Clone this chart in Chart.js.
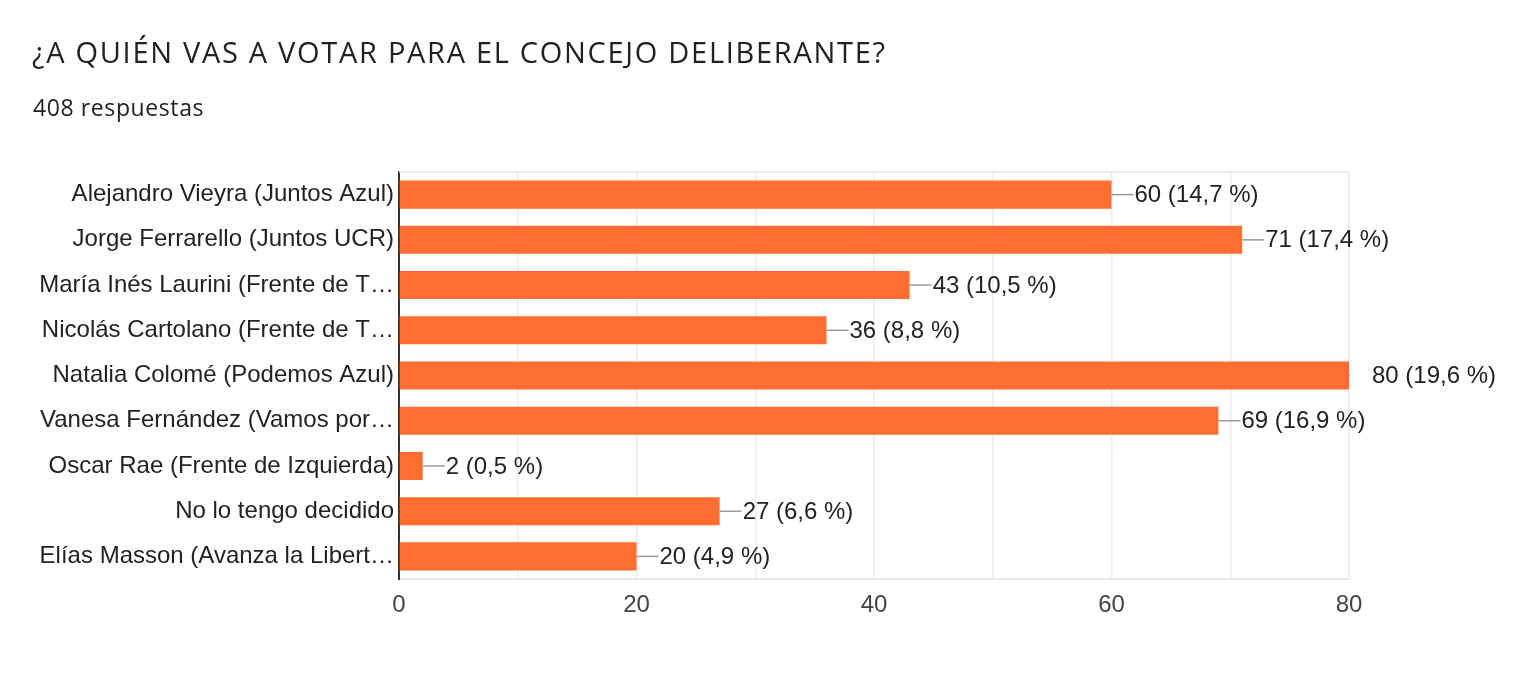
<!DOCTYPE html>
<html>
<head>
<meta charset="utf-8">
<script src="https://cdn.jsdelivr.net/npm/chart.js@4"></script>
<style>
  html, body { margin: 0; padding: 0; background: #fff; }
  #wrap { position: relative; width: 1518px; height: 688px; }
  #title { position: absolute; left: 32px; top: 37px; font: 29px/29px "Open Sans", sans-serif; letter-spacing: 1.7px; color: #202124; white-space: nowrap; }
  #sub { position: absolute; left: 33px; top: 96px; font: 23px/23px "Open Sans", sans-serif; letter-spacing: 0.6px; color: #202124; white-space: nowrap; }
  canvas { position: absolute; left: 0; top: 0; }
</style>
</head>
<body>
<div id="wrap">
  <canvas id="votoChart" width="1518" height="688"></canvas>
  <div id="title">¿A QUIÉN VAS A VOTAR PARA EL CONCEJO DELIBERANTE?</div>
  <div id="sub">408 respuestas</div>
</div>
<script>
const candidatos = [
    'Alejandro Vieyra (Juntos Azul)',
    'Jorge Ferrarello (Juntos UCR)',
    'María Inés Laurini (Frente de T…',
    'Nicolás Cartolano (Frente de T…',
    'Natalia Colomé (Podemos Azul)',
    'Vanesa Fernández (Vamos por…',
    'Oscar Rae (Frente de Izquierda)',
    'No lo tengo decidido',
    'Elías Masson (Avanza la Libert…'
];
const votos = [60, 71, 43, 36, 80, 69, 2, 27, 20];
const porcentajes = ['14,7', '17,4', '10,5', '8,8', '19,6', '16,9', '0,5', '6,6', '4,9'];
const xTicks = [0, 20, 40, 60, 80];

const fontFam = '"Liberation Sans", Arial, sans-serif';

// leader line + "n (x %)" label at the end of each bar
const barLabels = {
    id: 'barLabels',
    beforeDatasetsDraw(chart) {
        const { ctx, chartArea } = chart;
        ctx.save();
        ctx.strokeStyle = '#e6e6e6';
        ctx.lineWidth = 1.5;
        ctx.beginPath();
        ctx.moveTo(chartArea.left, chartArea.top);
        ctx.lineTo(chartArea.right, chartArea.top);
        ctx.stroke();
        ctx.restore();
    },
    afterDatasetsDraw(chart) {
        const { ctx, chartArea } = chart;
        const meta = chart.getDatasetMeta(0);
        ctx.save();
        meta.data.forEach((bar, i) => {
            ctx.save();
            ctx.beginPath();
            ctx.rect(chartArea.left, chartArea.top, chartArea.right - chartArea.left + 1, chartArea.bottom - chartArea.top);
            ctx.clip();
            ctx.strokeStyle = '#999';
            ctx.lineWidth = 1.5;
            ctx.beginPath();
            ctx.moveTo(bar.x, bar.y);
            ctx.lineTo(bar.x + 22, bar.y);
            ctx.stroke();
            ctx.restore();
        });
        ctx.font = '24px ' + fontFam;
        ctx.fillStyle = '#222';
        ctx.textBaseline = 'middle';
        meta.data.forEach((bar, i) => {
            ctx.fillText(votos[i] + ' (' + porcentajes[i] + ' %)', bar.x + 23, bar.y + 1);
        });
        ctx.restore();
    }
};

const ctx = document.getElementById('votoChart').getContext('2d');
new Chart(ctx, {
    type: 'bar',
    data: {
        labels: candidatos,
        datasets: [{
            data: votos,
            backgroundColor: '#ff6d31',
            barPercentage: 0.62,
            categoryPercentage: 1.0
        }]
    },
    options: {
        indexAxis: 'y',
        responsive: false,
        animation: false,
        layout: { padding: { left: 33, right: 169, top: 172, bottom: 49 } },
        plugins: {
            legend: { display: false },
            tooltip: { enabled: false }
        },
        scales: {
            x: {
                min: 0,
                max: 80,
                afterFit(scale) { scale.height = 60; },
                afterBuildTicks(scale) {
                    const t = [];
                    for (let v = 0; v <= 80; v += 10) t.push({ value: v });
                    scale.ticks = t;
                },
                ticks: {
                    padding: 12,
                    color: '#444',
                    font: { family: fontFam, size: 24 },
                    callback: v => xTicks.includes(v) ? v : ''
                },
                grid: { color: '#ebebeb', lineWidth: 1.5, drawTicks: false },
                border: { color: '#e6e6e6', width: 2 }
            },
            y: {
                afterFit(scale) { scale.width = 366; },
                ticks: {
                    padding: 5,
                    color: '#222',
                    font: { family: fontFam, size: 24 }
                },
                grid: { display: false, drawTicks: false },
                border: { color: '#333', width: 2 }
            }
        }
    },
    plugins: [barLabels]
});
</script>
</body>
</html>
